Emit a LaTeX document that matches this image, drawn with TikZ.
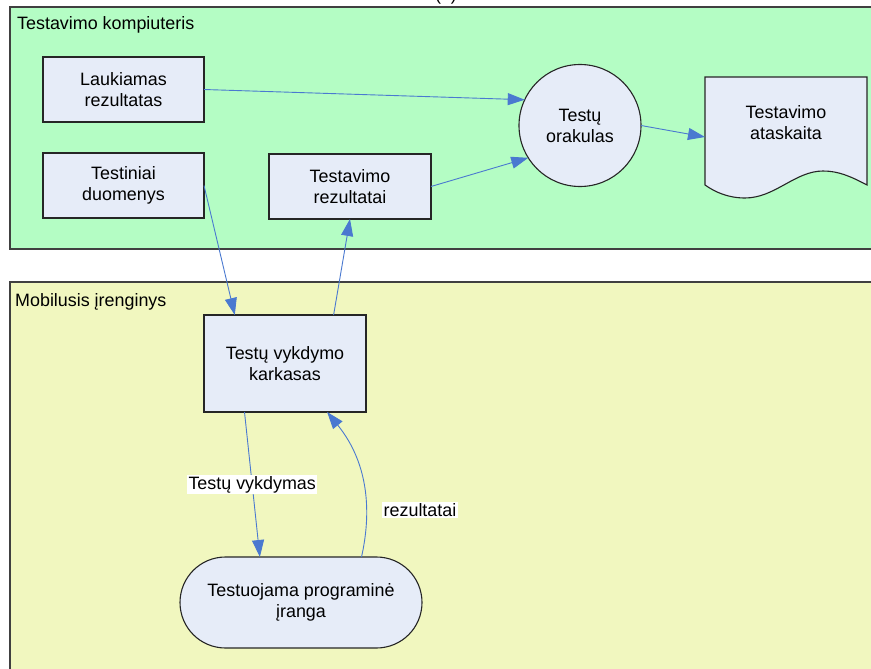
\documentclass[tikz,border=0pt]{standalone}
\usepackage{fontspec}
\setmainfont{Liberation Sans}
\usetikzlibrary{arrows.meta,calc}

\definecolor{pcgreen}{RGB}{180,253,196}
\definecolor{mobyellow}{RGB}{241,247,191}
\definecolor{boxfill}{RGB}{230,236,248}
\definecolor{flowblue}{RGB}{74,121,208}
\newcommand\dfont{\fontsize{17.9}{21}\selectfont}

\begin{document}
\begin{tikzpicture}[x=1pt,y=-1pt,
  zone/.style={draw=black!75,line width=1.2pt},
  proc/.style={draw=black!85,line width=1.1pt,fill=boxfill,inner sep=0pt,
    outer sep=0pt,align=center,font=\dfont},
  flow/.style={draw=flowblue,line width=0.9pt,
    -{Triangle[length=17pt,width=12pt]}},
  lbl/.style={fill=white,inner sep=1.5pt,font=\dfont},
  title/.style={font=\dfont,anchor=base west,inner sep=0pt}]
\useasboundingbox (0,0) rectangle (871,669);
\clip (0,0) rectangle (871,669);

% caption above the frames, cut by the page edge
\node[font=\dfont,anchor=base,inner sep=0pt] (cap) at (446,0.5) {(\phantom{a})};

% the two zones
\fill[pcgreen] (10,7) rectangle (890,249);
\draw[zone] (10,7) rectangle (890,249);
\fill[mobyellow] (10,282) rectangle (890,700);
\draw[zone] (10,282) rectangle (890,700);
\node[title] (pctitle) at (17,29.5) {Testavimo kompiuteris};
\node[title] (mobtitle) at (15,306.5) {Mobilusis įrenginys};

% processes on the test computer
\node[proc,minimum width=161,minimum height=65] (lauk) at (123.5,89.5)
  {Laukiamas\\rezultatas};
\node[proc,minimum width=161,minimum height=65] (duom) at (123.5,185.5)
  {Testiniai\\duomenys};
\node[proc,minimum width=162,minimum height=65] (rez) at (350,186.5)
  {Testavimo\\rezultatai};
\node[proc,circle,minimum size=122] (ora) at (580,125.5) {Testų\\orakulas};

% report document with wavy bottom edge
\node[inner sep=0pt,outer sep=0pt,minimum width=162,minimum height=108]
  (doc) at (786,131) {};
\filldraw[draw=black!85,line width=1.1pt,fill=boxfill]
  (705,77) -- (867,77) -- (867,185)
  .. controls (850,176) and (838,171) .. (823,171)
  .. controls (795,171) and (775,198) .. (745,198)
  .. controls (728,198) and (715,192) .. (705,185) -- cycle;
\node[font=\dfont,align=center] (doctext) at (786,123) {Testavimo\\ataskaita};

% processes on the mobile device
\node[proc,minimum width=162,minimum height=97] (kark) at (285,363.5)
  {Testų vykdymo\\karkasas};
\node[proc,minimum width=242,minimum height=91,rounded corners=45.5pt]
  (prog) at (301,602.5) {Testuojama programinė\\įranga};

% data flows
\draw[flow] (lauk.east) -- (ora.155);
\draw[flow] (rez.east) -- (ora.212);
\draw[flow] (ora.east) -- ($(doc.west)+(0,6)$);
\draw[flow] (duom.east) -- ($(kark.north west)!0.19!(kark.north east)$);
\draw[flow] ($(kark.north west)!0.8!(kark.north east)$) -- (rez.south);
\draw[flow] ($(kark.south west)!0.25!(kark.south east)$)
  -- node[lbl] (lblvyk) {Testų vykdymas}
  ($(prog.north west)!0.33!(prog.north east)$);
\draw[flow] ($(prog.north west)!0.75!(prog.north east)$)
  .. controls (371,515) and (370,465) ..
  ($(kark.south west)!0.76!(kark.south east)$);
\node[lbl] (lblrez) at (420,510) {rezultatai};
\end{tikzpicture}
\end{document}
